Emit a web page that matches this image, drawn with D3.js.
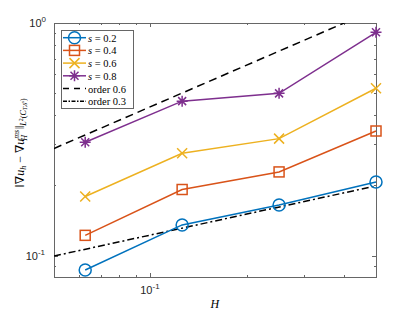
<!DOCTYPE html>
<meta charset="utf-8">
<style>
  body { margin: 0; background: #fff; }
  .axis path, .axis line { fill: none; stroke: #666; shape-rendering: crispEdges; }
  .axis text { font: 11px "Liberation Sans", Arial, sans-serif; fill: #262626; }
  .tex { font-family: "Liberation Serif", "DejaVu Serif", serif; fill: #000; }
</style>
<body>
<script src="https://d3js.org/d3.v7.min.js"></script>
<script>

var H = [1/16, 1/8, 1/4, 1/2];
var s02 = [0.0871, 0.136, 0.1655, 0.208];
var s04 = [0.1227, 0.193, 0.2296, 0.344];
var s06 = [0.180, 0.276, 0.319, 0.525];
var s08 = [0.308, 0.462, 0.499, 0.912];
var refH = [0.05, 0.5];
var order06 = [0.2895, 1.146];
var order03 = [0.1, 0.2];
var seriesNames = ["s = 0.2", "s = 0.4", "s = 0.6", "s = 0.8"];
var refNames = ["order 0.6", "order 0.3"];
var xMinor = [0.06, 0.07, 0.08, 0.09, 0.2, 0.3, 0.4, 0.5];
var yMinor = [0.09, 0.2, 0.3, 0.4, 0.5, 0.6, 0.7, 0.8, 0.9];

var colors = ["#0072BD", "#D95319", "#EDB120", "#7E2F8E"];
var markers = ["circle", "square", "cross", "star"];

var margin = {top: 23, right: 39, bottom: 35, left: 54},
    width = 415 - margin.left - margin.right,
    height = 312 - margin.top - margin.bottom;

var svg = d3.select("body").append("svg")
    .attr("width", 415)
    .attr("height", 312)
  .append("g")
    .attr("transform", "translate(" + margin.left + "," + margin.top + ")");

var x = d3.scaleLog().domain([0.05, 0.5]).range([0, width]);
var y = d3.scaleLog().domain([0.0813, 1]).range([height, 0]);

svg.append("defs").append("clipPath").attr("id", "clip")
  .append("rect").attr("width", width).attr("height", height);

// minor ticks, all four sides
function minorTicks(g, vals, scale, horiz, inward) {
  g.selectAll("line.m").data(vals).enter().append("line")
    .attr("class", "m")
    .attr("stroke", "#666")
    .attr("x1", function(d) { return horiz ? scale(d) : 0; })
    .attr("x2", function(d) { return horiz ? scale(d) : inward; })
    .attr("y1", function(d) { return horiz ? 0 : scale(d); })
    .attr("y2", function(d) { return horiz ? inward : scale(d); });
}
var ax = svg.append("g").attr("class", "axis");
minorTicks(ax.append("g").attr("transform", "translate(0," + height + ")"), xMinor, x, true, -2);
minorTicks(ax.append("g"), xMinor, x, true, 2);
minorTicks(ax.append("g"), yMinor, y, false, 2);
minorTicks(ax.append("g").attr("transform", "translate(" + width + ",0)"), yMinor, y, false, -2);
minorTicks(ax.append("g").attr("transform", "translate(0," + height + ")"), [0.1], x, true, -4);
minorTicks(ax.append("g"), [0.1], x, true, 4);
minorTicks(ax.append("g"), [0.1, 1], y, false, 4);
minorTicks(ax.append("g").attr("transform", "translate(" + width + ",0)"), [0.1, 1], y, false, -4);

ax.append("rect").attr("width", width).attr("height", height)
  .attr("fill", "none").attr("stroke", "#666").attr("shape-rendering", "crispEdges");

// major tick labels
function powLabel(px, py, exp, anchor) {
  var t = ax.append("text").attr("x", px).attr("y", py).attr("text-anchor", anchor);
  t.append("tspan").text("10");
  t.append("tspan").attr("dy", -5).attr("font-size", "8px").text(exp);
}
powLabel(x(0.1) - 1, height + 17, "-1", "middle");
powLabel(-9, y(0.1) + 4, "-1", "end");
powLabel(-8, y(1) + 4, "0", "end");

// reference lines
var plot = svg.append("g").attr("clip-path", "url(#clip)");
var line = d3.line().x(function(d) { return x(d[0]); }).y(function(d) { return y(d[1]); });

plot.append("path").datum(d3.zip(refH, order06))
  .attr("d", line).attr("fill", "none").attr("stroke", "#000")
  .attr("stroke-width", 1.5).attr("stroke-dasharray", "8,5");
plot.append("path").datum(d3.zip(refH, order03))
  .attr("d", line).attr("fill", "none").attr("stroke", "#000")
  .attr("stroke-width", 1.5).attr("stroke-dasharray", "7,3,2,3");

function drawMarker(g, type, color) {
  if (type == "circle") {
    g.append("circle").attr("r", 6).attr("fill", "none").attr("stroke", color).attr("stroke-width", 1.5);
  } else if (type == "square") {
    g.append("rect").attr("x", -5).attr("y", -5).attr("width", 10).attr("height", 10)
      .attr("fill", "none").attr("stroke", color).attr("stroke-width", 1.5);
  } else if (type == "cross") {
    g.append("path").attr("d", "M-5,-5L5,5M-5,5L5,-5").attr("stroke", color).attr("stroke-width", 1.5);
  } else {
    g.append("path").attr("d", "M-5.5,0L5.5,0M0,-5.5L0,5.5M-4,-4L4,4M-4,4L4,-4")
      .attr("stroke", color).attr("stroke-width", 1.5);
  }
}

[s02, s04, s06, s08].forEach(function(vals, i) {
  var pts = d3.zip(H, vals);
  svg.append("path").datum(pts).attr("d", line)
    .attr("fill", "none").attr("stroke", colors[i]).attr("stroke-width", 1.5);
  pts.forEach(function(p) {
    drawMarker(svg.append("g").attr("transform", "translate(" + x(p[0]) + "," + y(p[1]) + ")"), markers[i], colors[i]);
  });
});

// legend
var lg = svg.append("g").attr("transform", "translate(7,7)");
lg.append("rect").attr("width", 72).attr("height", 78)
  .attr("fill", "#fff").attr("stroke", "#666").attr("shape-rendering", "crispEdges");
var rowH = 12.7;
seriesNames.forEach(function(name, i) {
  var row = lg.append("g").attr("transform", "translate(0," + (7.7 + i * rowH) + ")");
  row.append("line").attr("x1", 2).attr("x2", 25).attr("stroke", colors[i]).attr("stroke-width", 1.5);
  drawMarker(row.append("g").attr("transform", "translate(13.5,0)"), markers[i], colors[i]);
  var t = row.append("text").attr("class", "tex").attr("x", 27).attr("y", 4).attr("font-size", "10.5px");
  t.append("tspan").attr("font-style", "italic").text("s");
  t.append("tspan").text(name.slice(1));
});
refNames.forEach(function(name, i) {
  var row = lg.append("g").attr("transform", "translate(0," + (7.7 + (i + 4) * rowH) + ")");
  row.append("line").attr("x1", 2).attr("x2", 25).attr("stroke", "#000").attr("stroke-width", 1.5)
    .attr("stroke-dasharray", i == 0 ? "6,5" : "4,1.5,1.5,1.5");
  row.append("text").attr("class", "tex").attr("x", 27).attr("y", 4).attr("font-size", "10.5px").text(name);
});

// axis labels
svg.append("text").attr("class", "tex").attr("x", x(0.158)).attr("y", height + 31)
  .attr("text-anchor", "middle").attr("font-size", "12px").attr("font-style", "italic").text("H");

var yl = svg.append("text").attr("class", "tex")
  .attr("transform", "translate(-30," + (height / 2 - 7) + ") rotate(-90)")
  .attr("text-anchor", "middle").attr("font-size", "12px");
yl.append("tspan").text("‖∇");
yl.append("tspan").attr("font-style", "italic").text("u");
yl.append("tspan").attr("font-style", "italic").attr("font-size", "8px").attr("dy", 2).text("h");
yl.append("tspan").attr("dy", -2).text(" − ∇");
yl.append("tspan").attr("font-style", "italic").text("u");
yl.append("tspan").attr("font-style", "italic").attr("font-size", "8px").attr("dy", -5).text("ms");
yl.append("tspan").attr("font-style", "italic").attr("font-size", "8px").attr("dx", -11).attr("dy", 8).text("H");
yl.append("tspan").attr("dy", -3).attr("dx", 6).text("‖");
yl.append("tspan").attr("font-style", "italic").attr("font-size", "8px").attr("dy", 2).text("L");
yl.append("tspan").attr("font-size", "6px").attr("dy", -3).text("2");
yl.append("tspan").attr("font-size", "8px").attr("dy", 3).text("(");
yl.append("tspan").attr("font-style", "italic").attr("font-size", "8px").text("C");
yl.append("tspan").attr("font-style", "italic").attr("font-size", "6px").attr("dy", 1).text("T,δ");
yl.append("tspan").attr("font-style", "italic").attr("font-size", "5px").attr("dy", -3).text("s");
yl.append("tspan").attr("font-size", "8px").attr("dy", 2).text(")");

</script>
</body>
